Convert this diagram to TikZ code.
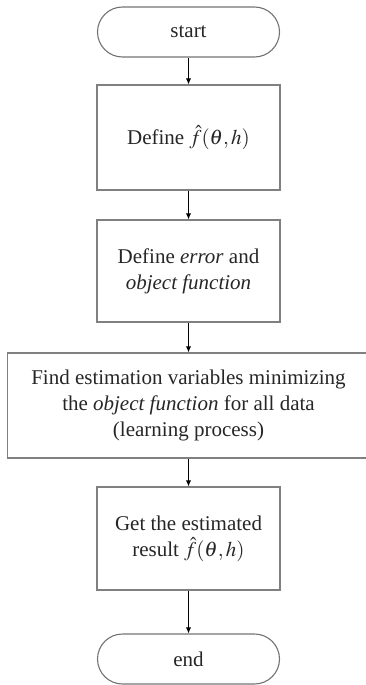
\documentclass[tikz,border=0pt]{standalone}
\usepackage{mathptmx}
\usepackage[no-math]{fontspec}
\setmainfont{Liberation Serif}
\usetikzlibrary{arrows.meta}
\begin{document}
\begin{tikzpicture}[x=1pt,y=-1pt,
  every node/.style={font=\fontsize{21}{26}\selectfont, align=center, inner sep=0pt, text=black!85},
  procbox/.style={draw=black!50, line width=1.1pt, minimum width=183pt},
  term/.style={draw=black!55, line width=1.1pt, rounded corners=25pt, minimum width=182pt, minimum height=50pt},
  flow/.style={draw=black, line width=0.8pt, -{Latex[length=6pt,width=5pt]}}]
\useasboundingbox (0,0) rectangle (366,685);
\node[term] (start) at (188.5,32) {start};
\node[procbox, minimum height=105pt] (b1) at (188.5,137.5) {Define $\hat{f}(\theta,h)$};
\node[procbox, minimum height=102pt] (b2) at (188.5,271) {Define \textit{error} and\\\textit{object function}};
\node[procbox, minimum height=105pt, minimum width=362pt] (b3) at (188.5,405.5) {Find estimation variables minimizing\\the \textit{object function} for all data\\(learning process)};
\node[procbox, minimum height=103pt] (b4) at (188.5,538.5) {Get the estimated\\result $\hat{f}(\theta,h)$};
\node[term] (end) at (188.5,659) {end};
\draw[flow] (start) -- (b1);
\draw[flow] (b1) -- (b2);
\draw[flow] (b2) -- (b3);
\draw[flow] (b3) -- (b4);
\draw[flow] (b4) -- (end);
\end{tikzpicture}
\end{document}
